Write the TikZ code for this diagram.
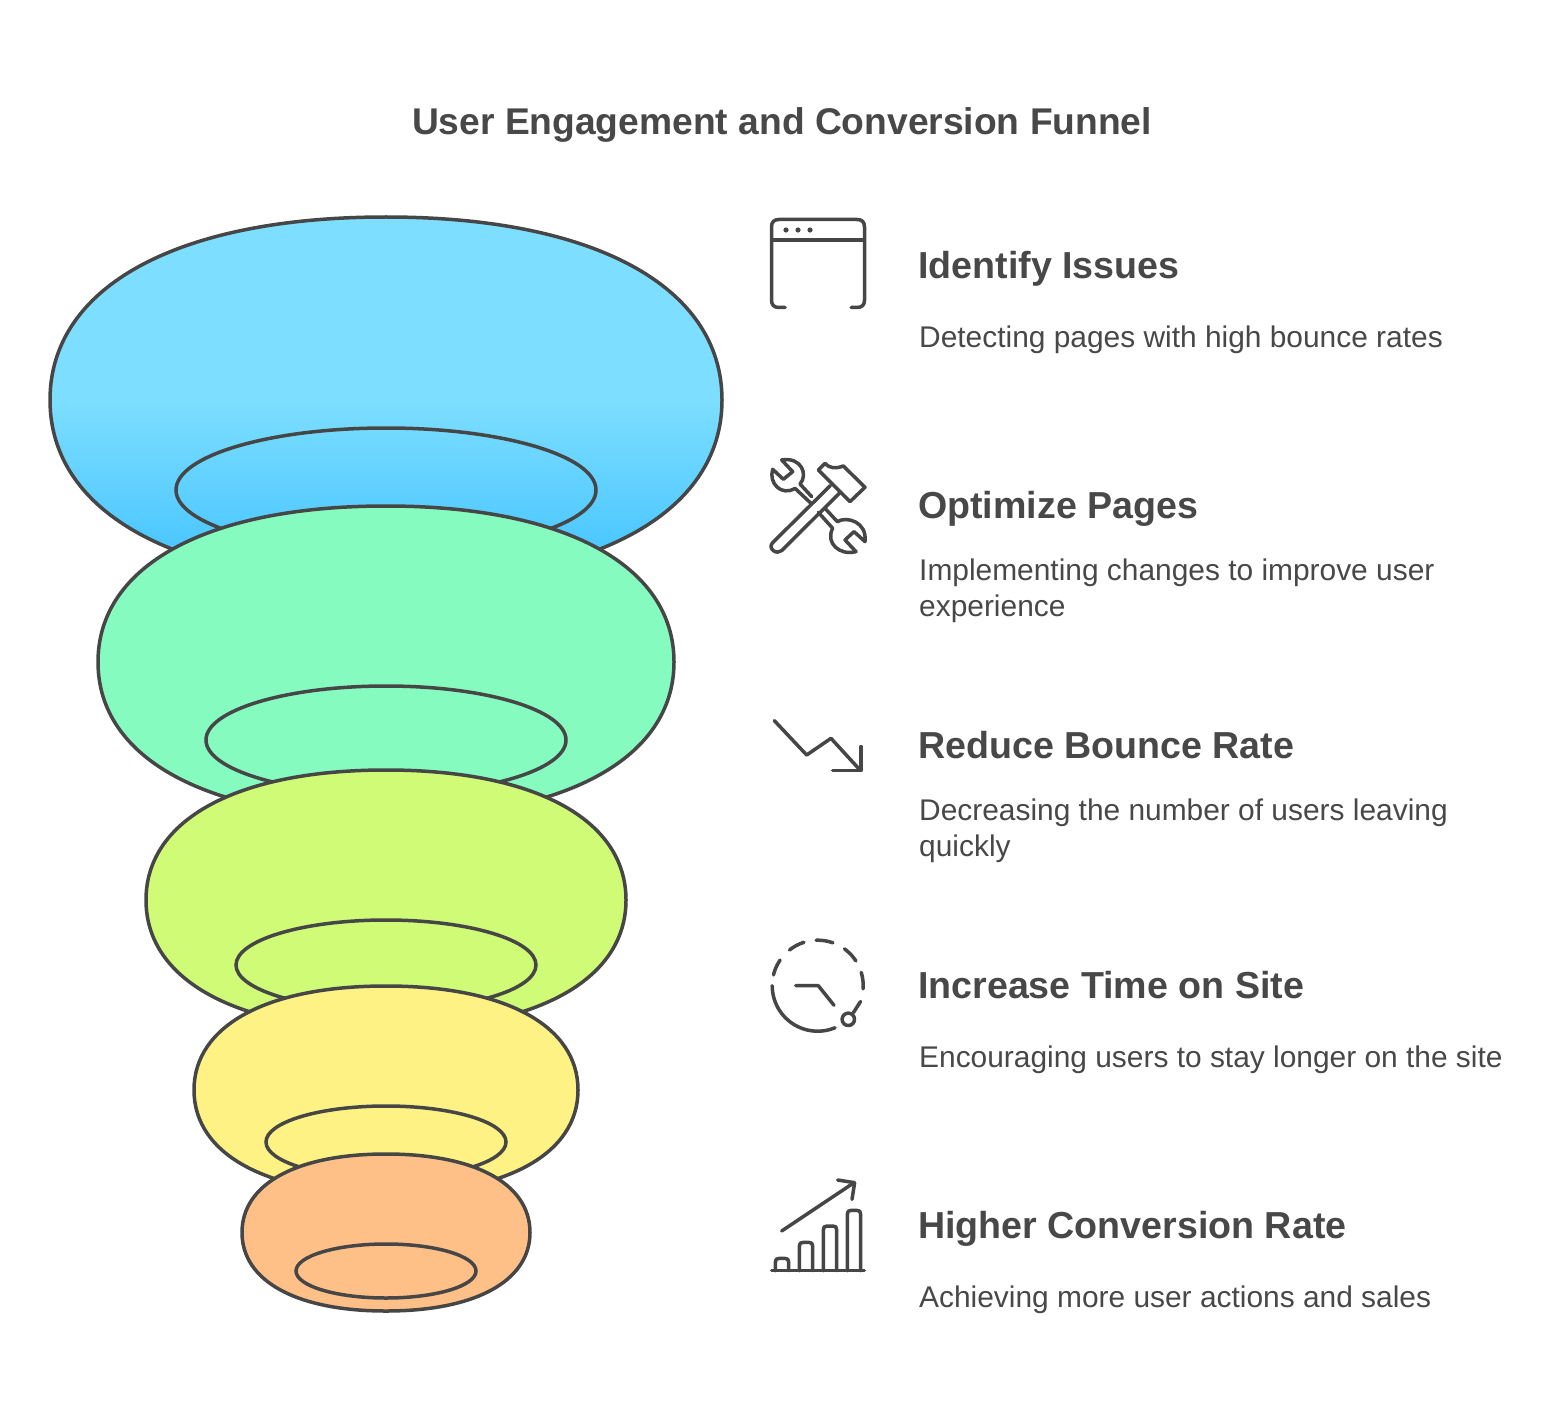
\documentclass[tikz,border=0pt]{standalone}
\usepackage{fontspec}
\setmainfont{Liberation Sans}
\definecolor{ink}{HTML}{464646}
\definecolor{txt}{HTML}{484848}
\definecolor{blueA}{HTML}{7DDEFF}
\definecolor{blueB}{HTML}{4AC6FF}
\definecolor{greenF}{HTML}{86FBC0}
\definecolor{limeF}{HTML}{CFFB76}
\definecolor{yellowF}{HTML}{FEF285}
\definecolor{orangeF}{HTML}{FFC088}
\pgfdeclareverticalshading{blueblob}{100bp}{color(0bp)=(blueB); color(29bp)=(blueB); color(50bp)=(blueA); color(100bp)=(blueA)}
\newcommand{\blob}[5][]{% cx, cy, rx, ry
  \path[blobline,#1] (#2,#3-#5) .. controls (#2+0.62*#4,#3-#5) and (#2+#4,#3-0.62*#5) .. (#2+#4,#3)
   .. controls (#2+#4,#3+0.62*#5) and (#2+0.62*#4,#3+#5) .. (#2,#3+#5)
   .. controls (#2-0.62*#4,#3+#5) and (#2-#4,#3+0.62*#5) .. (#2-#4,#3)
   .. controls (#2-#4,#3-0.62*#5) and (#2-0.62*#4,#3-#5) .. (#2,#3-#5) -- cycle;}
\newcommand{\clockarc}[2]{\draw[icon] plot[domain=#1:#2,samples=16,smooth] ({817.7+45.5*cos(\x)},{985.7+45.5*sin(\x)});}
\tikzset{
  blobline/.style={draw=ink,line width=3.5pt},
  ringline/.style={draw=ink,line width=3.5pt},
  icon/.style={draw=ink,line width=3.5pt,line cap=round,line join=round},
  headtxt/.style={anchor=base west,inner sep=0pt,text=txt,font=\fontsize{37.6}{37.6}\selectfont\bfseries},
  bodytxt/.style={anchor=base west,inner sep=0pt,text=txt,font=\fontsize{29.9}{36}\selectfont},
}
\begin{document}
\begin{tikzpicture}[x=1pt,y=-1pt]
\useasboundingbox[fill=white] (0,0) rectangle (1565,1420);
\node[anchor=base,inner sep=0pt,text=txt,font=\fontsize{37.2}{37.2}\selectfont\bfseries] (title) at (782,134.5) {User Engagement and Conversion Funnel};
% funnel
\blob[shade,shading=blueblob]{386}{400}{336}{183}
\draw[ringline] (386,490) ellipse[x radius=210,y radius=62];
\blob[fill=greenF]{386}{662}{288}{156}
\draw[ringline] (386,740) ellipse[x radius=180,y radius=54];
\blob[fill=limeF]{386}{900}{240}{130}
\draw[ringline] (386,965) ellipse[x radius=150,y radius=45];
\blob[fill=yellowF]{386}{1090}{192}{104}
\draw[ringline] (386,1142) ellipse[x radius=120,y radius=36];
\blob[fill=orangeF]{386}{1232.5}{144}{78.5}
\draw[ringline] (386,1271) ellipse[x radius=90,y radius=27];
% texts
\node[headtxt] (h1) at (918,278.5) {Identify Issues};
\node[bodytxt] (b1) at (919,347) {Detecting pages with high bounce rates};
\node[headtxt] (h2) at (918,518) {Optimize Pages};
\node[bodytxt] (b2) at (919,580.5) {Implementing changes to improve user};
\node[bodytxt] (b2b) at (919,616.5) {experience};
\node[headtxt] (h3) at (918,758) {Reduce Bounce Rate};
\node[bodytxt] (b3) at (919,820.5) {Decreasing the number of users leaving};
\node[bodytxt] (b3b) at (919,856.5) {quickly};
\node[headtxt] (h4) at (918,998) {Increase Time on Site};
\node[bodytxt] (b4) at (919,1067) {Encouraging users to stay longer on the site};
\node[headtxt] (h5) at (918,1238) {Higher Conversion Rate};
\node[bodytxt] (b5) at (919,1307) {Achieving more user actions and sales};
% icon 1: window
\draw[icon] (785,307.5) -- (779,307.5) .. controls (774,307.5) and (771.5,305) .. (771.5,300) -- (771.5,227) .. controls (771.5,222) and (774,219.5) .. (779,219.5) -- (857,219.5) .. controls (862,219.5) and (864.5,222) .. (864.5,227) -- (864.5,300) .. controls (864.5,305) and (862,307.5) .. (857,307.5) -- (851,307.5);
\draw[icon] (772,240) -- (864,240);
\foreach \x in {786,798,810} \fill[ink] (\x,230) circle[radius=2.6];
% icon 2: tools
\begin{scope}[shift={(750,200)},x=0.3333pt,y=-0.3333pt]
\draw[icon] (241,857) -- (68,1028) .. controls (60,1038) and (62,1045) .. (70,1052) .. controls (78,1058) and (88,1058) .. (95,1052) -- (268,880);
\draw[icon] (205,810) -- (225,790) .. controls (235,803) and (255,808) .. (280,798) -- (345,862) -- (300,905) -- cycle;
\draw[icon] (185,890) -- (150,852) .. controls (175,825) and (155,770) .. (95,780) -- (128,815) -- (100,838) -- (68,808) .. controls (55,850) and (95,890) .. (135,865) -- (185,912);
\draw[icon] (225,925) -- (262,965) .. controls (290,948) and (352,965) .. (345,1025) -- (312,995) -- (285,1020) -- (318,1055) .. controls (270,1068) and (225,1030) .. (248,985) -- (205,937);
\end{scope}
% icon 3: trend
\begin{scope}[shift={(750,700)},x=0.3333pt,y=-0.3333pt]
\draw[icon] (73,62) -- (170,165) -- (243,115) -- (330,210);
\draw[icon] (333,140) -- (333,212) -- (248,212);
\end{scope}
% icon 4: clock
\clockarc{67.6}{180}
\clockarc{193.7}{214.3}
\clockarc{231.7}{252.5}
\clockarc{268}{289.5}
\clockarc{306}{327}
\clockarc{343}{364}
\draw[icon] (860.5,1001.5) -- (853.5,1012.5);
\draw[icon] (848.3,1019.3) circle[radius=6.2];
\draw[icon] (795.7,985.7) -- (818.3,985.7) -- (834,1005.3);
% icon 5: chart
\begin{scope}[shift={(750,1160)},x=0.3333pt,y=-0.3333pt]
\draw[icon] (65,332) -- (343,332);
\foreach \a/\t in {76/295,148/247,220/198,292/151}
  \draw[icon] (\a,332) -- (\a,\t+12) .. controls (\a,\t+3) and (\a+3,\t) .. (\a+12,\t) -- (\a+28,\t) .. controls (\a+37,\t) and (\a+40,\t+3) .. (\a+40,\t+12) -- (\a+40,332);
\draw[icon] (95,213) -- (312,68);
\draw[icon] (263,60) -- (314,68) -- (306,118);
\end{scope}
\end{tikzpicture}
\end{document}
